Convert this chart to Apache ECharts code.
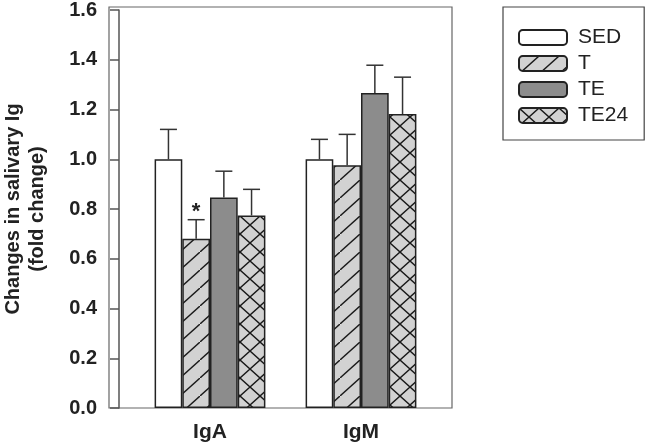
<!DOCTYPE html>
<html><head><meta charset="utf-8">
<script src="https://cdn.jsdelivr.net/npm/echarts@6/dist/echarts.min.js"></script>
<style>html,body{margin:0;padding:0;background:#fff}#c{width:645px;height:444px}</style>
</head><body><div id="c"></div>
<script>
var categories = ['IgA', 'IgM'];
var seriesNames = ['SED', 'T', 'TE', 'TE24'];
var sedMean = [1.00, 1.00];
var sedErr  = [1.12, 1.08];
var tMean   = [0.68, 0.976];
var tErr    = [0.757, 1.10];
var teMean  = [0.846, 1.266];
var teErr   = [0.952, 1.378];
var te24Mean = [0.774, 1.182];
var te24Err  = [0.879, 1.33];
var yTicks = [0, 0.2, 0.4, 0.6, 0.8, 1.0, 1.2, 1.4, 1.6];

var FONT = 'Liberation Sans, Arial, sans-serif';
var BAR_W = 27.7;

function makePattern(kind) {
  var w = 20, h = 18;
  var c = document.createElement('canvas');
  c.width = w; c.height = h;
  var g = c.getContext('2d');
  g.fillStyle = '#d2d2d2';
  g.fillRect(0, 0, w, h);
  g.strokeStyle = '#1a1a1a';
  g.lineWidth = 1.4;
  g.beginPath();
  g.moveTo(-w, 2 * h); g.lineTo(2 * w, -h);
  if (kind === 'x') { g.moveTo(-w, -h); g.lineTo(2 * w, 2 * h); }
  g.stroke();
  return { image: c, repeat: 'repeat' };
}
var hatch = makePattern('/');
var cross = makePattern('x');

var means = [sedMean, tMean, teMean, te24Mean];
var errs = [sedErr, tErr, teErr, te24Err];
var fills = ['#ffffff', hatch, '#8c8c8c', cross];

var series = [];
seriesNames.forEach(function (name, s) {
  series.push({
    name: name,
    type: 'bar',
    barWidth: BAR_W,
    barGap: '0%',
    itemStyle: { color: fills[s], borderColor: '#222', borderWidth: 1.5 },
    data: means[s].map(function (v, i) {
      var d = { value: v };
      if (s === 1 && i === 0) {
        d.label = { show: true, formatter: '*', position: 'top', distance: 16,
          fontSize: 22, fontWeight: 'bold', color: '#222', fontFamily: FONT };
      }
      return d;
    }),
    z: 2
  });
});

var errData = [];
errs.forEach(function (arr, s) {
  arr.forEach(function (hi, i) { errData.push([i, means[s][i], hi, s]); });
});
series.push({
  type: 'custom',
  name: 'err',
  z: 1,
  data: errData,
  encode: { x: 0, y: 2 },
  renderItem: function (params, api) {
    var s = api.value(3);
    var off = (s - 1.5) * BAR_W;
    var p0 = api.coord([api.value(0), api.value(1)]);
    var p1 = api.coord([api.value(0), api.value(2)]);
    var x = p0[0] + off;
    var st = { stroke: '#333', lineWidth: 1.5 };
    return { type: 'group', children: [
      { type: 'line', shape: { x1: x, y1: p0[1], x2: x, y2: p1[1] }, style: st },
      { type: 'line', shape: { x1: x - 8.5, y1: p1[1], x2: x + 8.5, y2: p1[1] }, style: st }
    ]};
  }
});

var chart = echarts.init(document.getElementById('c'), null, { renderer: 'canvas' });
chart.setOption({
  animation: false,
  backgroundColor: '#fff',
  legend: {
    data: seriesNames,
    orient: 'vertical',
    left: 503, top: 7,
    padding: [20, 16, 14, 15],
    itemWidth: 48, itemHeight: 15, itemGap: 5,
    borderColor: '#444', borderWidth: 1.2,
    textStyle: { fontFamily: FONT, fontSize: 21, color: '#222', padding: [0, 0, 0, 6] }
  },
  grid: [
    { left: 124.5, width: 312, top: 7, bottom: 36 },
    { left: 109, right: 193, top: 7, bottom: 36, show: true, borderColor: '#666', borderWidth: 1.2, backgroundColor: 'transparent' }
  ],
  xAxis: [
    { type: 'category', data: categories, gridIndex: 0,
      axisLine: { show: false }, axisTick: { show: false },
      axisLabel: { fontFamily: FONT, fontSize: 21, fontWeight: 'bold', color: '#222', margin: 14 } },
    { type: 'value', gridIndex: 1, show: false, min: 0, max: 1 }
  ],
  yAxis: [
    { type: 'value', gridIndex: 0, min: 0, max: 1.6, interval: 0.2, offset: 15.5,
      name: 'Changes in salivary Ig\n(fold change)', nameLocation: 'middle', nameGap: 70,
      nameTextStyle: { fontFamily: FONT, fontSize: 20, fontWeight: 'bold', color: '#222', lineHeight: 24 },
      axisLine: { show: true, lineStyle: { color: '#555', width: 1.5 } },
      axisTick: { show: true, length: 9, lineStyle: { color: '#555', width: 1.5 } },
      splitLine: { show: false },
      axisLabel: { fontFamily: FONT, fontSize: 20, fontWeight: 'bold', color: '#222', margin: 22,
        formatter: function (v) { return v.toFixed(1); } } },
    { type: 'value', gridIndex: 1, show: false, min: 0, max: 1 }
  ],
  series: series
});
</script></body></html>
